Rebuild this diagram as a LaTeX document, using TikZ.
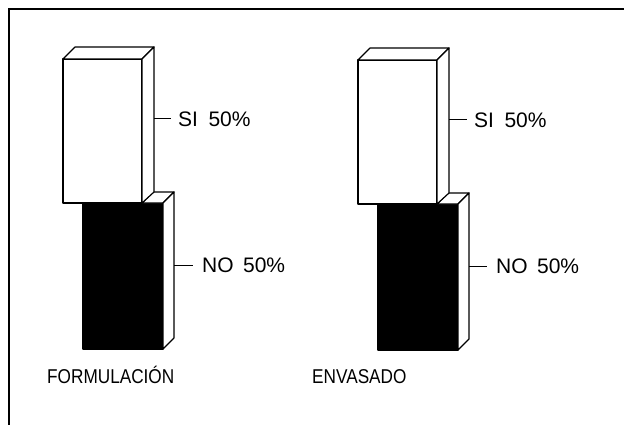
\documentclass[tikz,border=0pt]{standalone}
\usepackage{fontspec}
\setmainfont{Liberation Sans}
\newfontfamily\condfont[FakeStretch=0.86]{Liberation Sans}
\begin{document}
\begin{tikzpicture}[x=1pt,y=-1pt,
  outline/.style={draw=black,line width=1.2pt,line join=round},
  whiteface/.style={outline,fill=white},
  blackface/.style={outline,fill=black},
  leader/.style={draw=black,line width=1pt},
  pct/.style={anchor=west,inner sep=0pt,font=\fontsize{21}{24}\selectfont},
  cat/.style={anchor=base west,inner sep=0pt,font=\condfont\fontsize{20}{22}\selectfont}]
\useasboundingbox (0,0) rectangle (624,425);
% frame
\draw[line width=1.5pt] (9,425) -- (9,9) -- (624,9);
% two charts
\foreach \dx/\dy/\nm in {0/0/a,295/1/b}{
  \begin{scope}[shift={(\dx,\dy)}]
    % black (NO) box
    \draw[blackface] (83,203) rectangle (163,349);
    \draw[whiteface] (142,203) -- (153,192) -- (174,192) -- (163,203) -- cycle;
    \draw[whiteface] (163,203) -- (174,192) -- (174,338) -- (163,349) -- cycle;
    % white (SI) box
    \draw[whiteface] (63,59) rectangle (142,203);
    \draw[whiteface] (63,59) -- (75,47) -- (154,47) -- (142,59) -- cycle;
    \draw[whiteface] (142,59) -- (154,47) -- (154,192) -- (142,203) -- cycle;
    \coordinate (si\nm) at (154,119);
    \coordinate (no\nm) at (174,265);
  \end{scope}
}
\node[pct] (lsia) at (178,119) {SI\hspace{0.5em}50\%};
\node[pct] (lnoa) at (202,265) {NO\hspace{0.45em}50\%};
\node[pct] (lsib) at (474,120) {SI\hspace{0.5em}50\%};
\node[pct] (lnob) at (496,266) {NO\hspace{0.45em}50\%};
\draw[leader] (sia) -- ([xshift=-7pt]lsia.west);
\draw[leader] (noa) -- ([xshift=-9pt]lnoa.west);
\draw[leader] (sib) -- ([xshift=-7pt]lsib.west);
\draw[leader] (nob) -- ([xshift=-9pt]lnob.west);
\node[cat] (fa) at (47,383) {FORMULACIÓN};
\node[cat] (fb) at (312,383) {ENVASADO};
\end{tikzpicture}
\end{document}
